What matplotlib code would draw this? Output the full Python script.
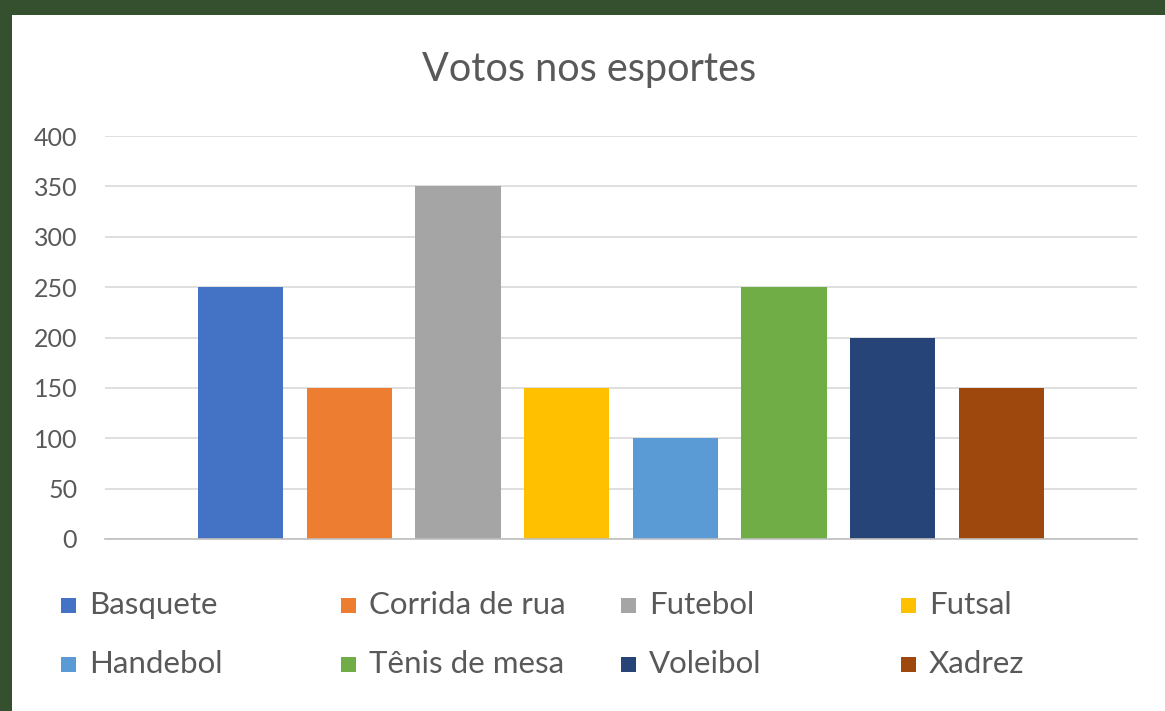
import matplotlib.pyplot as plt
from matplotlib.patches import Rectangle

# chart data
sports = ['Basquete', 'Corrida de rua', 'Futebol', 'Futsal',
          'Handebol', 'Tênis de mesa', 'Voleibol', 'Xadrez']
votes = [250, 150, 350, 150, 100, 250, 200, 150]
colors = ['#4472C4', '#ED7D31', '#A5A5A5', '#FFC000',
          '#5B9BD5', '#70AD47', '#264478', '#9E480E']
yticks = [0, 50, 100, 150, 200, 250, 300, 350, 400]

W, H = 1165, 711
plt.rcParams['font.family'] = ['Lato', 'DejaVu Sans']
text_color = '#595959'

fig = plt.figure(figsize=(W / 100, H / 100), dpi=100)
fig.patch.set_facecolor('#34502f')

# white chart area over the green slide background
fig.patches.append(Rectangle((12 / W, 0), 1 - 12 / W, (H - 15) / H,
                             transform=fig.transFigure, facecolor='white',
                             edgecolor='none', zorder=-5))

ax = fig.add_axes([105 / W, (H - 539) / H, (1137 - 105) / W, (539 - 136) / H])
ax.set_zorder(2)
ax.set_facecolor('none')
ax.bar(range(len(sports)), votes, width=0.785, color=colors, zorder=3)

ax.set_xlim(-1.251, 8.251)
ax.set_ylim(0, 400)
ax.set_yticks(yticks)
ax.set_xticks([])
ax.yaxis.grid(True, color='#d9d9d9', linewidth=1.2, zorder=0)
ax.set_axisbelow(True)
for s in ['top', 'right', 'left']:
    ax.spines[s].set_visible(False)
ax.spines['bottom'].set_color('#bfbfbf')
ax.spines['bottom'].set_linewidth(1.2)
ax.spines['bottom'].set_zorder(4)
ax.tick_params(axis='y', length=0, pad=20, labelsize=18, labelcolor=text_color)

fig.text(589 / W, 1 - 70 / H, 'Votos nos esportes', ha='center', va='center',
         fontsize=28.5, color=text_color)

# legend, row by row like Excel
for i, (name, c) in enumerate(zip(sports, colors)):
    col, row = i % 4, i // 4
    x0 = 61 + col * 280
    yc = 605 + row * 59
    fig.patches.append(Rectangle((x0 / W, 1 - (yc + 7.5) / H), 15 / W, 15 / H,
                                 transform=fig.transFigure, facecolor=c,
                                 edgecolor='none'))
    fig.text((x0 + 28) / W, 1 - yc / H, name, ha='left', va='center',
             fontsize=22.5, color=text_color)

fig.savefig('out.png', dpi=100, facecolor=fig.get_facecolor())
